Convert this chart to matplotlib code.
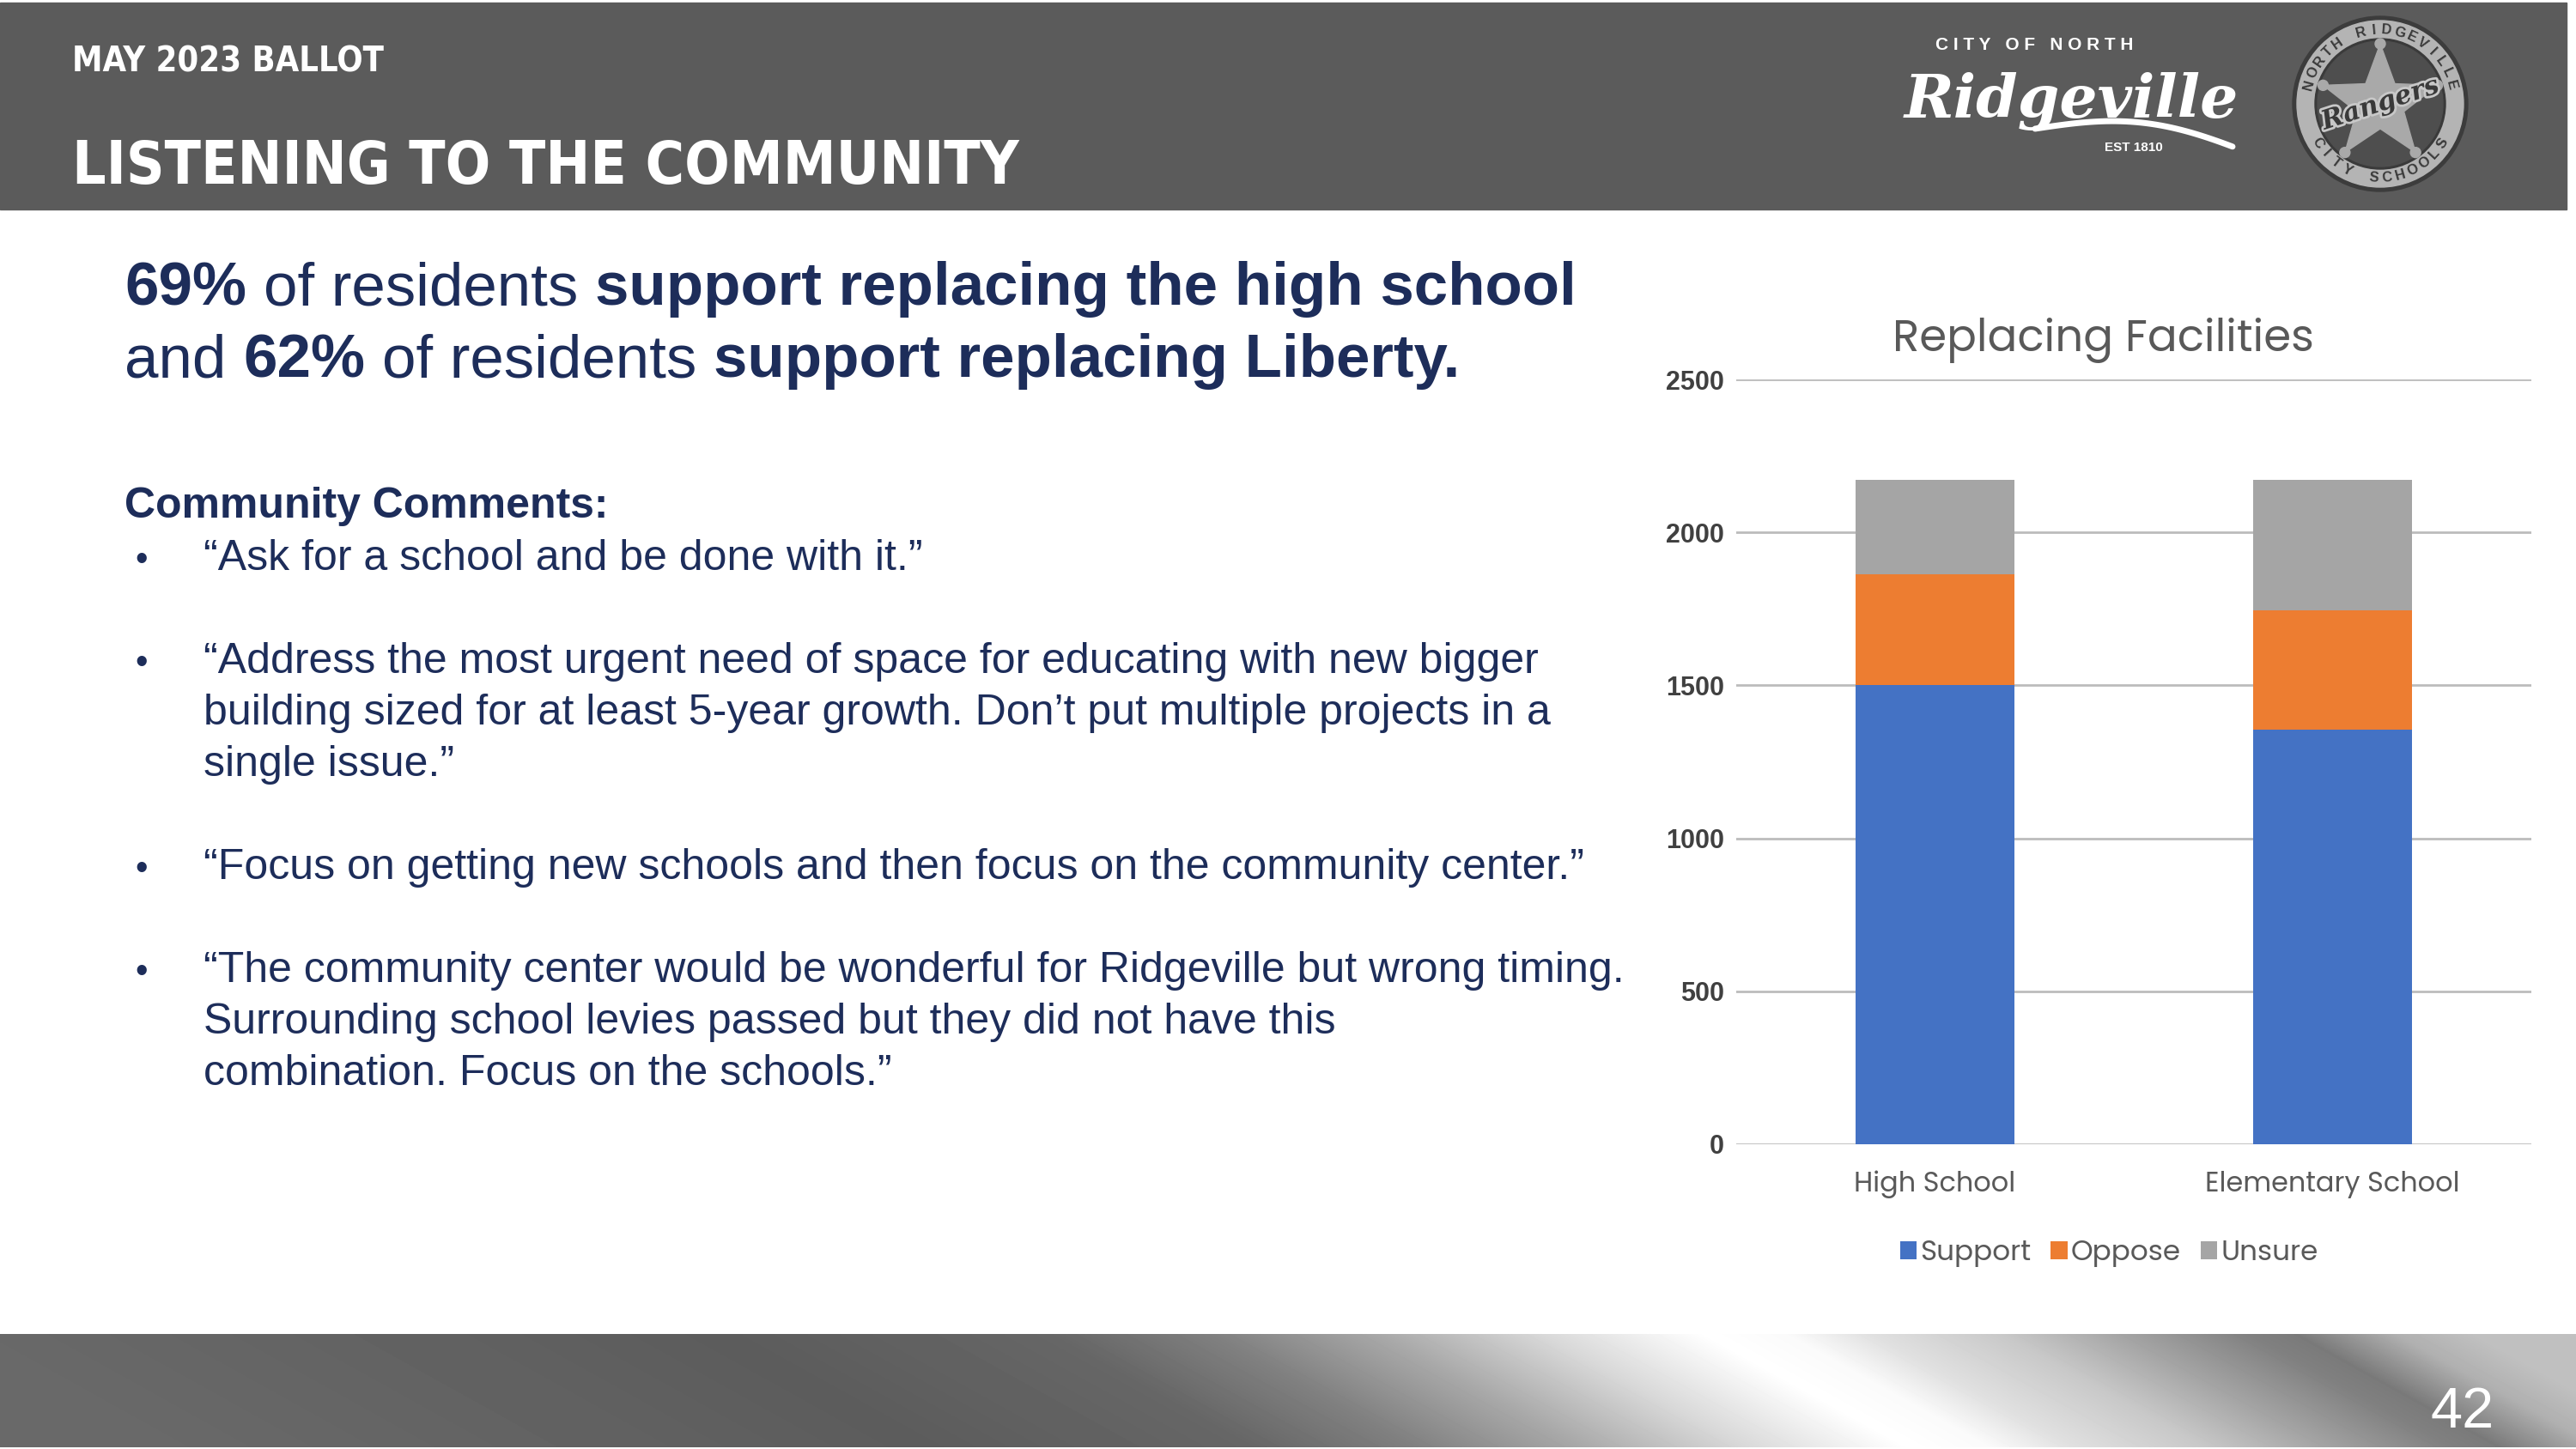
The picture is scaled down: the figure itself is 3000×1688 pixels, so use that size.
import numpy as np
import matplotlib
matplotlib.use("Agg")
import matplotlib.pyplot as plt
from matplotlib import font_manager
from matplotlib.patches import Rectangle, Circle, Polygon
import matplotlib.patheffects as pe

# chart data
categories = ["High School", "Elementary School"]
support = [1500, 1355]
oppose = [362, 390]
unsure = [310, 427]
y_ticks = [0, 500, 1000, 1500, 2000, 2500]

headline_1 = [("69%", True), ("of residents", False), ("support replacing the high school", True)]
headline_2 = [("and", False), ("62%", True), ("of residents", False), ("support replacing Liberty.", True)]

comments = [
    ["\u201cAsk for a school and be done with it.\u201d"],
    ["\u201cAddress the most urgent need of space for educating with new bigger",
     "building sized for at least 5-year growth. Don\u2019t put multiple projects in a",
     "single issue.\u201d"],
    ["\u201cFocus on getting new schools and then focus on the community center.\u201d"],
    ["\u201cThe community center would be wonderful for Ridgeville but wrong timing.",
     "Surrounding school levies passed but they did not have this",
     "combination. Focus on the schools.\u201d"],
]

NAVY = "#1d2d5a"
HEADER_GRAY = "#5b5b5b"
SANS = ["Liberation Sans", "DejaVu Sans"]
ROUND = ["Poppins", "Noto Sans", "DejaVu Sans"]


def narrow_font():
    # look for any condensed / narrow bold face installed
    best = None
    for f in font_manager.fontManager.ttflist:
        nm = f.name.lower()
        cond = f.stretch in ("condensed", "semi-condensed", "extra-condensed", "ultra-condensed") \
            or "narrow" in nm or "condensed" in nm or "condensed" in f.fname.lower()
        bold = f.weight in ("bold", 700, "heavy", 800, 900, "black") or "bold" in f.fname.lower()
        if cond and bold:
            best = f.fname
            break
    if best:
        return font_manager.FontProperties(fname=best)
    return font_manager.FontProperties(family="DejaVu Sans", weight="bold")


W, H = 3000, 1688
fig = plt.figure(figsize=(W / 100, H / 100), dpi=100)
fig.patch.set_facecolor("white")
bg = fig.add_axes([0, 0, 1, 1])
bg.set_xlim(0, W)
bg.set_ylim(H, 0)
bg.axis("off")
renderer = fig.canvas.get_renderer()
NARROW = narrow_font()


def fit_text(x, y, s, target_w, size, **kw):
    # draw and rescale so the text spans target_w pixels
    t = bg.text(x, y, s, **kw)
    t.set_fontsize(size)
    w = t.get_window_extent(renderer=renderer).width
    t.set_fontsize(size * target_w / w)
    return t


def draw_runs(x, y, runs, size):
    a = bg.text(0, 0, "x x", fontsize=size, family=SANS)
    b = bg.text(0, 0, "xx", fontsize=size, family=SANS)
    sp = a.get_window_extent(renderer=renderer).width - b.get_window_extent(renderer=renderer).width
    a.remove()
    b.remove()
    for txt, bold in runs:
        t = bg.text(x, y, txt, fontsize=size, family=SANS, color=NAVY,
                    fontweight="bold" if bold else "normal", va="baseline", ha="left")
        x += t.get_window_extent(renderer=renderer).width + sp


# header band
bg.add_patch(Rectangle((0, 3), 2989, 241, color=HEADER_GRAY, zorder=0))
fit_text(84, 84, "MAY 2023 BALLOT", 362, 40, fontproperties=NARROW,
         color="white", va="baseline")
fit_text(84, 214, "LISTENING TO THE COMMUNITY", 1102, 70, fontproperties=NARROW,
         color="white", va="baseline")

# city logo
bg.text(2369, 53, "C I T Y   O F   N O R T H", fontsize=15, family=SANS, fontweight="bold",
        color="white", ha="center", va="center")
bg.text(2412, 118, "Ridgeville", fontsize=50, family=["DejaVu Serif"], style="italic",
        fontweight="bold", color="white", ha="center", va="center")
sx = np.linspace(2370, 2600, 40)
sy = 150 - 22 * np.sin((sx - 2370) / 230 * np.pi * 0.9) + (sx - 2370) * 0.12
bg.plot(sx, sy, color="white", lw=5, solid_capstyle="round")
bg.text(2485, 172, "EST 1810", fontsize=11, family=SANS, fontweight="bold",
        color="white", ha="center", va="center")

# school badge
cx, cy = 2772, 121
bg.add_patch(Circle((cx, cy), 102, color="#3c3c3c", zorder=2))
bg.add_patch(Circle((cx, cy), 97, color="#b4b4b4", zorder=2))
bg.add_patch(Circle((cx, cy), 76, color="#3a3a3a", zorder=2))
bg.add_patch(Circle((cx, cy), 73, color="#4e4e4e", zorder=2))
ang = np.pi / 2 + np.arange(10) * np.pi / 5
rad = np.where(np.arange(10) % 2 == 0, 70, 29)
star = np.column_stack([cx + rad * np.cos(ang), cy - rad * np.sin(ang)])
bg.add_patch(Polygon(star, closed=True, color="#a9a9a9", zorder=3))
for k in range(0, 10, 2):
    bg.add_patch(Circle((star[k, 0], star[k, 1]), 6, color="#a9a9a9", zorder=3))
bg.text(cx, cy, "Rangers", fontsize=22, family=["DejaVu Serif"], style="italic", fontweight="bold",
        color="#3a3a3a", rotation=18, ha="center", va="center", zorder=4,
        path_effects=[pe.withStroke(linewidth=4, foreground="#c8c8c8")])
top_txt = "NORTH RIDGEVILLE"
for i, ch in enumerate(top_txt):
    th = np.deg2rad(165 - i * 150 / (len(top_txt) - 1))
    bg.text(cx + 86 * np.cos(th), cy - 86 * np.sin(th), ch, fontsize=12, family=SANS,
            fontweight="bold", color="#3a3a3a", rotation=np.rad2deg(th) - 90,
            ha="center", va="center", zorder=4)
bot_txt = "CITY SCHOOLS"
for i, ch in enumerate(bot_txt):
    th = np.deg2rad(212 + i * 116 / (len(bot_txt) - 1))
    bg.text(cx + 86 * np.cos(th), cy - 86 * np.sin(th), ch, fontsize=12, family=SANS,
            fontweight="bold", color="#3a3a3a", rotation=np.rad2deg(th) + 90,
            ha="center", va="center", zorder=4)

# headline
draw_runs(145, 355, headline_1, 51)
draw_runs(145, 439, headline_2, 51)

# comments
bg.text(145, 603, "Community Comments:", fontsize=36, family=SANS, fontweight="bold",
        color=NAVY, va="baseline")
y = 664
for block in comments:
    bg.text(165, y, "\u2022", fontsize=30, family=SANS, color=NAVY, va="baseline", ha="center")
    for line in block:
        bg.text(237, y, line, fontsize=36, family=SANS, color=NAVY, va="baseline")
        y += 60
    y += 60

# footer gradient band
fx = np.array([0, 574, 956, 1339, 1530, 1722, 1913, 2104, 2200, 2296, 2449, 2583, 2736, 2793, 2908, 3000])
fv = np.array([106, 98, 92, 102, 128, 168, 216, 255, 250, 224, 200, 165, 128, 122, 176, 192])
gx = np.arange(W)
gy = np.arange(1554, 1686)
shift = 1.8 * (gy - gy.mean())
grad = np.array([np.interp(gx - s, fx, fv) for s in shift]) / 255.0
bg.imshow(grad, cmap="gray", vmin=0, vmax=1, extent=(0, W, 1686, 1554), aspect="auto",
          interpolation="bilinear", zorder=0)
bg.set_xlim(0, W)
bg.set_ylim(H, 0)
bg.text(2905, 1663, "42", fontsize=48, family=SANS, color="white", ha="right", va="baseline")

# chart
ax = fig.add_axes([2022 / W, 1 - 1333 / H, 926 / W, 891 / H])
x = np.arange(len(categories))
ax.bar(x, support, width=0.4, color="#4472C4", label="Support", zorder=3)
ax.bar(x, oppose, width=0.4, bottom=support, color="#ED7D31", label="Oppose", zorder=3)
ax.bar(x, unsure, width=0.4, bottom=np.add(support, oppose), color="#A5A5A5",
       label="Unsure", zorder=3)
ax.set_xlim(-0.5, 1.5)
ax.set_ylim(0, 2500)
ax.set_yticks(y_ticks)
ax.set_xticks(x, categories)
ax.yaxis.grid(True, color="#bcbcbc", lw=2.0, zorder=0)
for s in ax.spines.values():
    s.set_visible(False)
ax.tick_params(axis="both", length=0)
ax.tick_params(axis="y", pad=10, labelsize=22, labelcolor="#404040")
ax.tick_params(axis="x", pad=22, labelsize=23, labelcolor="#595959")
for lab in ax.get_yticklabels():
    lab.set_family(SANS)
    lab.set_fontweight("bold")
for lab in ax.get_xticklabels():
    lab.set_family(ROUND)
ax.set_facecolor("none")

bg.text(2449, 409, "Replacing Facilities", fontsize=37, family=ROUND, color="#595959",
        ha="center", va="baseline")

leg = fig.legend(*ax.get_legend_handles_labels(), loc="center", ncol=3,
                 bbox_to_anchor=(2456 / W, 1 - 1460 / H), frameon=False,
                 handlelength=0.6, handleheight=0.6, handletextpad=0.12, columnspacing=0.7,
                 prop={"family": ROUND, "size": 23.5})
for t in leg.get_texts():
    t.set_color("#595959")

fig.savefig("out.png", dpi=100)
